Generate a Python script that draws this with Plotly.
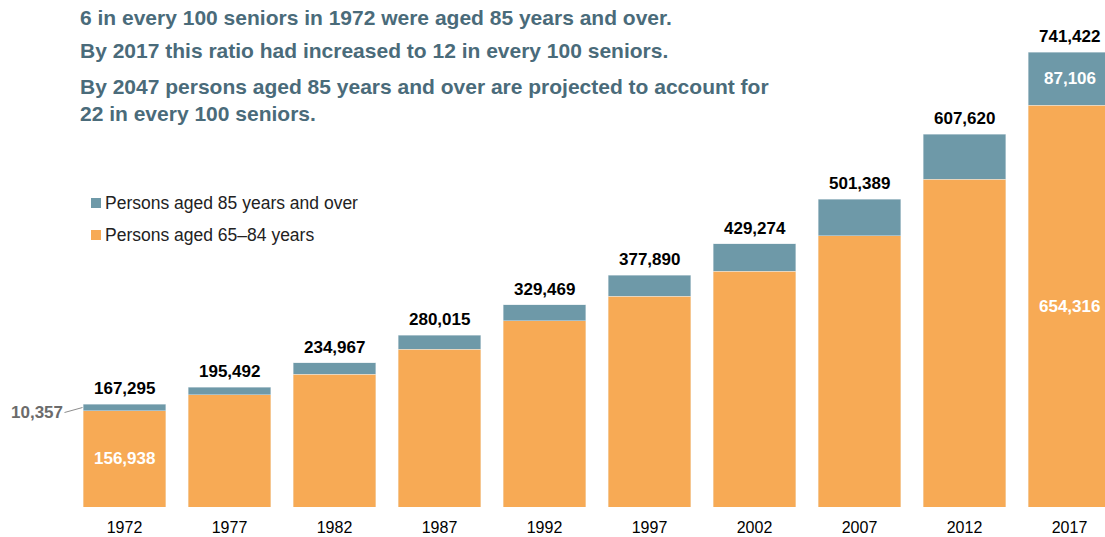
import plotly.graph_objects as go

years = ["1972", "1977", "1982", "1987", "1992", "1997", "2002", "2007", "2012", "2017"]
totals = [167295, 195492, 234967, 280015, 329469, 377890, 429274, 501389, 607620, 741422]
aged_85_plus = [10357, 12500, 18500, 22800, 26100, 34800, 45100, 59200, 73800, 87106]
aged_65_84 = [t - o for t, o in zip(totals, aged_85_plus)]

headlines = [
    "6 in every 100 seniors in 1972 were aged 85 years and over.",
    "By 2017 this ratio had increased to 12 in every 100 seniors.",
    "By 2047 persons aged 85 years and over are projected to account for<br>22 in every 100 seniors.",
]

ORANGE = "#F7AA55"
TEAL = "#6E99A8"
SLATE = "#4A6B7A"
FONT = "Arial, Liberation Sans, sans-serif"

W, H = 1105, 537
L, R, T, B = 72, 0, 0, 30
pw, ph = W - L - R, H - T - B


def dom(xpage, ypage):
    """page pixel -> plot-area domain fraction"""
    return (xpage - L) / pw, 1 - (ypage - T) / ph


fig = go.Figure()
fig.add_trace(go.Bar(x=years, y=aged_65_84, name="Persons aged 65–84 years",
                     marker=dict(color=ORANGE, line=dict(color="#F3E3D0", width=0.5))))
fig.add_trace(go.Bar(x=years, y=aged_85_plus, name="Persons aged 85 years and over",
                     marker=dict(color=TEAL, line=dict(color="#DCE6EA", width=0.5))))

bold17 = dict(family=FONT, size=17, color="#000000", weight="bold")
white17 = dict(family=FONT, size=17, color="white", weight="bold")

annotations = []
# totals above the bars (x given as category index)
for i, t in enumerate(totals):
    annotations.append(dict(x=i, y=t, xref="x", yref="y", text=f"{t:,}", showarrow=False,
                            yanchor="bottom", yshift=4, font=bold17))

# values inside the first and last bars
for i in (0, 9):
    annotations.append(dict(x=i, y=aged_65_84[i] / 2, xref="x", yref="y",
                            text=f"{aged_65_84[i]:,}", showarrow=False, font=white17))
annotations.append(dict(x=9, y=aged_65_84[9] + aged_85_plus[9] / 2, xref="x", yref="y",
                        text=f"{aged_85_plus[9]:,}", showarrow=False, font=white17))
annotations.append(dict(x=-0.4, y=aged_65_84[0] + aged_85_plus[0] / 2, xref="x", yref="y",
                        text=f"{aged_85_plus[0]:,}", showarrow=True, arrowhead=0, arrowwidth=1,
                        arrowcolor="#8C8C8C", ax=-18, ay=5, xanchor="right",
                        font=dict(family=FONT, size=17, color="#6B6B6B", weight="bold")))

# headline text
for ypx, txt in zip([18, 50, 100], headlines):
    x, y = dom(78, ypx)
    annotations.append(dict(x=x, y=y, xref="x domain", yref="y domain", text=txt, showarrow=False,
                            xanchor="left", yanchor="middle", align="left",
                            font=dict(family=FONT, size=21, color=SLATE, weight="bold")))

# manual legend
shapes = []
legend_items = [(203, TEAL, "Persons aged 85 years and over"), (235, ORANGE, "Persons aged 65–84 years")]
for ypx, col, label in legend_items:
    x0, y0 = dom(91, ypx + 5)
    x1, y1 = dom(101, ypx - 5)
    shapes.append(dict(type="rect", xref="x domain", yref="y domain", x0=x0, x1=x1, y0=y0, y1=y1,
                       fillcolor=col, line=dict(width=0)))
    tx, ty = dom(103, ypx)
    annotations.append(dict(x=tx, y=ty, xref="x domain", yref="y domain", text=label,
                            showarrow=False, xanchor="left", yanchor="middle",
                            font=dict(family=FONT, size=17.5, color="#222222")))

fig.update_layout(
    barmode="stack",
    bargap=0.21,
    width=W, height=H,
    margin=dict(l=L, r=R, t=T, b=B),
    plot_bgcolor="white",
    paper_bgcolor="white",
    showlegend=False,
    annotations=annotations,
    shapes=shapes,
    font=dict(family=FONT),
)
fig.update_xaxes(type="category", range=[-0.5, -0.5 + pw / 105], showgrid=False, showline=False,
                 ticks="", ticklabelstandoff=9, tickfont=dict(family=FONT, size=16, color="#000000"))
fig.update_yaxes(range=[0, ph * 1629.5], visible=False, showgrid=False)

# drop the default body margin so the figure fills the window exactly
fig.write_html("out.html", config={"displayModeBar": False},
               post_script="document.body.style.margin='0';document.body.style.overflow='hidden';")
